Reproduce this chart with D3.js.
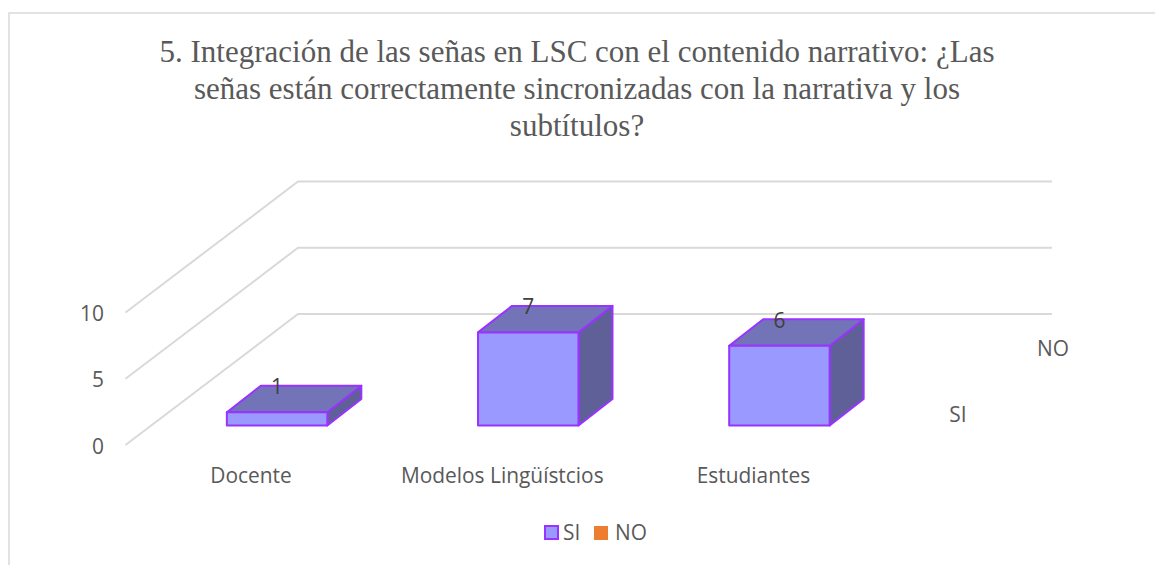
<!DOCTYPE html>
<html><head><meta charset="utf-8">
<script src="https://cdn.jsdelivr.net/npm/d3@7/dist/d3.min.js"></script>
<style>html,body{margin:0;padding:0;background:#fff}svg{display:block}</style></head>
<body><svg id="c" width="1155" height="565"></svg>
<script>
const titleLines = ["5. Integración de las señas en LSC con el contenido narrativo: ¿Las","señas están correctamente sincronizadas con la narrativa y los","subtítulos?"];
const categories = ["Docente","Modelos Lingüístcios","Estudiantes"];
const seriesNames = ["SI","NO"];
const siValues = [1,7,6];
const noValues = [0,0,0];
const yTicks = [0,5,10];

const svg = d3.select("#c");
const uiFont = "'Open Sans',sans-serif";
const uiSize = 20.9;
const textColor = "#595959";
const depthX = 34, depthY = -26.5;

// frame
svg.append("path").attr("d","M9 565V13H1155").attr("fill","none").attr("stroke","#d9d9d9").attr("stroke-width",1.5);

// title
svg.append("g").selectAll("text").data(titleLines).join("text")
  .attr("x",577).attr("y",(d,i)=>62+i*37).attr("text-anchor","middle")
  .attr("font-family","'Liberation Serif',serif").attr("font-size",31).attr("fill",textColor).text(d=>d);

const x = d3.scaleBand().domain(categories).range([151.5,905]).paddingInner(0.6).paddingOuter(0.3);
const yFloor = d3.scaleLinear().domain([0,10]).range([445,312.5]);
const yBar = d3.scaleLinear().domain([0,10]).range([425.5,292.5]);

// gridlines
const wallDX = 172.5, wallDY = -131, wallX0 = 125.5, wallX1 = 1052;
svg.append("g").selectAll("path").data(yTicks).join("path")
  .attr("d",d=>{const y=yFloor(d);return `M${wallX0} ${y}L${wallX0+wallDX} ${y+wallDY}H${wallX1}`;})
  .attr("fill","none").attr("stroke","#d9d9d9").attr("stroke-width",2);

// y tick labels
svg.append("g").selectAll("text").data(yTicks).join("text")
  .attr("x",104).attr("y",d=>yFloor(d)+8.5).attr("text-anchor","end")
  .attr("font-family",uiFont).attr("font-size",uiSize).attr("fill",textColor).text(d=>d);

// bars
const data = categories.map((c,i)=>({c,v:siValues[i]}));
const bars = svg.append("g").selectAll("g").data(data).join("g")
  .attr("stroke","#9933ff").attr("stroke-width",2).attr("stroke-linejoin","round");
bars.append("path").attr("fill","#606099").attr("d",d=>{
  const r=x(d.c)+x.bandwidth(),t=yBar(d.v),b=yBar(0);
  return `M${r} ${t}L${r+depthX} ${t+depthY}V${b+depthY}L${r} ${b}Z`;});
bars.append("path").attr("fill","#7373b8").attr("d",d=>{
  const l=x(d.c),r=l+x.bandwidth(),t=yBar(d.v);
  return `M${l} ${t}L${l+depthX} ${t+depthY}H${r+depthX}L${r} ${t}Z`;});
bars.append("path").attr("fill","#9999ff").attr("d",d=>{
  const l=x(d.c),r=l+x.bandwidth(),t=yBar(d.v),b=yBar(0);
  return `M${l} ${t}H${r}V${b}H${l}Z`;});

// data labels
svg.append("g").selectAll("text").data(data).join("text")
  .attr("x",d=>x(d.c)+x.bandwidth()/2).attr("y",d=>yBar(d.v)-18)
  .attr("text-anchor","middle").attr("font-family",uiFont).attr("font-size",uiSize).attr("fill","#404040").text(d=>d.v);

// category labels
svg.append("g").selectAll("text").data(categories).join("text")
  .attr("x",c=>x(c)+x.bandwidth()/2-26).attr("y",483).attr("text-anchor","middle")
  .attr("font-family",uiFont).attr("font-size",uiSize).attr("fill",textColor).text(d=>d);

// series depth labels
const seriesX = d3.scalePoint().domain(seriesNames).range([958,1053]);
const seriesY = d3.scalePoint().domain(seriesNames).range([422,356]);
svg.append("g").selectAll("text").data(seriesNames).join("text")
  .attr("x",d=>seriesX(d)).attr("y",d=>seriesY(d)).attr("text-anchor","middle")
  .attr("font-family",uiFont).attr("font-size",uiSize).attr("fill",textColor).text(d=>d);

// legend
const lg = svg.append("g");
lg.append("rect").attr("x",545).attr("y",526).attr("width",13).attr("height",13).attr("fill","#9999ff").attr("stroke","#9933ff").attr("stroke-width",2);
lg.append("text").attr("x",563).attr("y",540).attr("font-family",uiFont).attr("font-size",uiSize).attr("fill",textColor).text(seriesNames[0]);
lg.append("rect").attr("x",594).attr("y",526).attr("width",14).attr("height",14).attr("fill","#ed7d31");
lg.append("text").attr("x",615).attr("y",540).attr("font-family",uiFont).attr("font-size",uiSize).attr("fill",textColor).text(seriesNames[1]);
</script></body></html>
